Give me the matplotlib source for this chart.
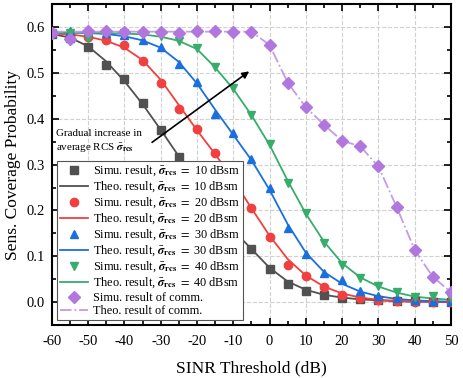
import numpy as np
import matplotlib
matplotlib.use("Agg")
import matplotlib.pyplot as plt
from matplotlib.ticker import MultipleLocator

plt.rcParams['font.family'] = ['Liberation Serif', 'DejaVu Serif']
plt.rcParams['mathtext.fontset'] = 'stix'
plt.rcParams['axes.unicode_minus'] = False

# SINR threshold (dB)
sinr = [-60, -55, -50, -45, -40, -35, -30, -25, -20, -15, -10, -5,
        0, 5, 10, 15, 20, 25, 30, 35, 40, 45, 50]

# simulated sensing coverage for each average RCS
sim10 = [0.585, 0.576, 0.557, 0.517, 0.487, 0.435, 0.376, 0.316, 0.255, 0.200, 0.152, 0.117,
         0.073, 0.039, 0.025, 0.015, 0.010, 0.006, 0.004, 0.003, 0.002, 0.001, 0.001]
sim20 = [0.586, 0.582, 0.578, 0.572, 0.561, 0.525, 0.479, 0.421, 0.378, 0.325, 0.268, 0.206,
         0.143, 0.080, 0.056, 0.034, 0.015, 0.009, 0.004, 0.002, 0.001, 0.000, 0.000]
sim30 = [0.588, 0.591, 0.589, 0.587, 0.583, 0.572, 0.556, 0.520, 0.480, 0.410, 0.369, 0.312,
         0.249, 0.162, 0.106, 0.063, 0.048, 0.025, 0.014, 0.008, 0.005, 0.003, 0.002]
sim40 = [0.587, 0.588, 0.577, 0.588, 0.587, 0.585, 0.580, 0.570, 0.554, 0.512, 0.467, 0.409,
         0.345, 0.260, 0.195, 0.130, 0.081, 0.052, 0.036, 0.023, 0.012, 0.013, 0.008]
sim_comm = [0.588, 0.575, 0.592, 0.591, 0.590, 0.590, 0.589, 0.587, 0.592, 0.591, 0.590, 0.590,
            0.561, 0.479, 0.425, 0.387, 0.352, 0.340, 0.296, 0.208, 0.114, 0.055, 0.022]

# theoretical curves
theo10 = [0.585, 0.577, 0.558, 0.525, 0.482, 0.432, 0.376, 0.318, 0.260, 0.205, 0.157, 0.116,
          0.075, 0.045, 0.027, 0.016, 0.010, 0.006, 0.004, 0.002, 0.001, 0.001, 0.000]
theo20 = [0.586, 0.584, 0.579, 0.570, 0.555, 0.528, 0.485, 0.430, 0.375, 0.323, 0.267, 0.205,
          0.145, 0.094, 0.058, 0.034, 0.019, 0.010, 0.005, 0.003, 0.001, 0.001, 0.000]
theo30 = [0.588, 0.588, 0.587, 0.585, 0.580, 0.571, 0.555, 0.524, 0.477, 0.420, 0.365, 0.310,
          0.245, 0.170, 0.108, 0.066, 0.040, 0.023, 0.013, 0.007, 0.004, 0.002, 0.001]
theo40 = [0.588, 0.588, 0.588, 0.587, 0.586, 0.584, 0.579, 0.570, 0.552, 0.512, 0.465, 0.408,
          0.343, 0.265, 0.193, 0.132, 0.085, 0.054, 0.034, 0.021, 0.012, 0.008, 0.005]
theo_comm = [0.590, 0.590, 0.590, 0.590, 0.590, 0.590, 0.590, 0.590, 0.590, 0.590, 0.590, 0.590,
             0.561, 0.479, 0.425, 0.387, 0.352, 0.340, 0.296, 0.208, 0.114, 0.055, 0.022]

rcs_levels = [10, 20, 30, 40]
colors = ['#515151', '#F14040', '#1A6FDF', '#37AD6B']
markers = ['s', 'o', '^', 'v']
sims = [sim10, sim20, sim30, sim40]
theos = [theo10, theo20, theo30, theo40]

fig = plt.figure(figsize=(4.63, 3.78), dpi=100)
ax = fig.add_axes([0.112, 0.140, 0.862, 0.849])

sig = r'$\bar{\boldsymbol{\sigma}}_{\mathbf{rcs}}$'
for lvl, c, m, s, t in zip(rcs_levels, colors, markers, sims, theos):
    ax.plot(sinr, s, ls='none', marker=m, color=c, ms=6, zorder=4,
            label='Simu. result, ' + sig + r' $=$ %d dBsm' % lvl)
    ax.plot(sinr, t, '-', color=c, lw=1.3, zorder=3,
            label='Theo. result, ' + sig + r' $=$ %d dBsm' % lvl)
ax.plot(sinr, sim_comm, ls='none', marker='D', color='#B177DE', ms=6.5, zorder=4,
        label='Simu. result of comm.')
ax.plot(sinr, theo_comm, '-.', color='#C49BE8', lw=1.3, zorder=3,
        label='Theo. result of comm.')

ax.set_xlim(-60, 50)
ax.set_ylim(-0.05, 0.65)
ax.xaxis.set_major_locator(MultipleLocator(10))
ax.xaxis.set_minor_locator(MultipleLocator(5))
ax.yaxis.set_major_locator(MultipleLocator(0.1))
ax.yaxis.set_minor_locator(MultipleLocator(0.05))
ax.yaxis.set_major_formatter(matplotlib.ticker.FormatStrFormatter('%.1f'))
ax.tick_params(which='both', direction='in', top=True, right=True, labelsize=10.5, width=1.2)
ax.tick_params(which='major', length=5)
ax.tick_params(which='minor', length=3)
ax.tick_params(axis='x', which='major', pad=7)
ax.tick_params(axis='y', which='major', pad=5)
for sp in ax.spines.values():
    sp.set_linewidth(1.5)
ax.grid(True, which='major', ls='--', color='#d0d0d0', lw=0.8)
ax.set_axisbelow(True)

ax.set_xlabel('SINR Threshold (dB)', fontsize=12.5, labelpad=9)
ax.set_ylabel('Sens. Coverage Probability', fontsize=12.5, labelpad=4)

ax.annotate('', xy=(-5, 0.507), xytext=(-33, 0.345),
            arrowprops=dict(arrowstyle='-|>', color='black', lw=1.2, mutation_scale=10), zorder=6)
ax.text(-58.8, 0.35, 'Gradual increase in\naverage RCS ' + sig, fontsize=7.9,
        ha='left', va='center', linespacing=1.35, zorder=6)

leg = ax.legend(loc='upper left', bbox_to_anchor=(0.012, 0.512), fontsize=8.8,
                frameon=True, fancybox=False, edgecolor='#555555', framealpha=1,
                labelspacing=0.12, handlelength=2.3, handletextpad=0.4,
                borderpad=0.25, borderaxespad=0)
leg.get_frame().set_linewidth(0.8)
leg.set_zorder(5)

fig.savefig('out.png', dpi=100)
